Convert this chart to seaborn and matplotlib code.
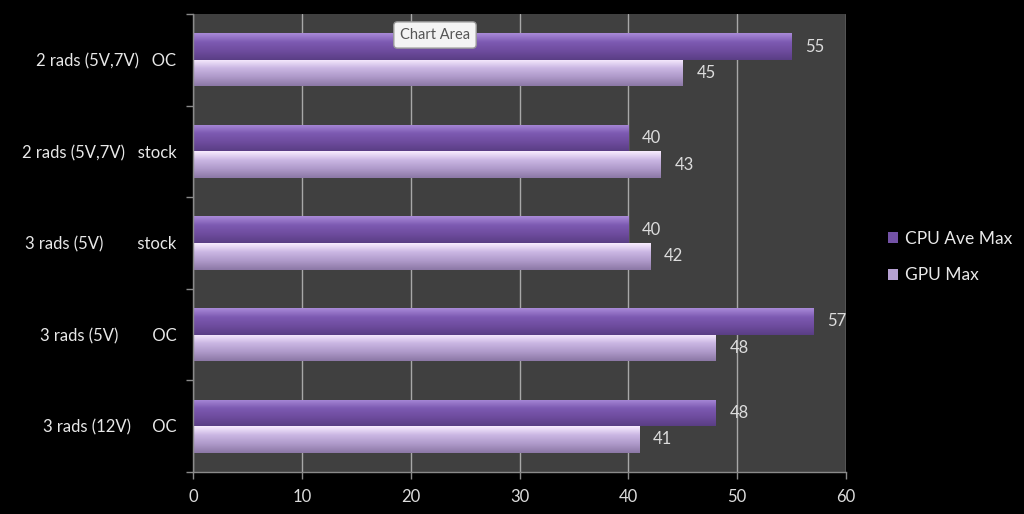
import matplotlib
matplotlib.use("Agg")
import matplotlib.pyplot as plt
import matplotlib.colors as mcolors
import numpy as np
import pandas as pd
import seaborn as sns

categories = ["2 rads (5V,7V)   OC", "2 rads (5V,7V)   stock", "3 rads (5V)        stock",
              "3 rads (5V)        OC", "3 rads (12V)     OC"]
cpu_ave_max = [55, 40, 40, 57, 48]
gpu_max = [45, 43, 42, 48, 41]
series_names = ["CPU Ave Max", "GPU Max"]
x_ticks = [0, 10, 20, 30, 40, 50, 60]

df = pd.DataFrame({
    "config": categories * 2,
    "value": cpu_ave_max + gpu_max,
    "series": [series_names[0]] * len(categories) + [series_names[1]] * len(categories),
})

sns.set_theme(style="dark")
plt.rcParams["font.family"] = ["Lato", "DejaVu Sans"]

base_colors = {"CPU Ave Max": "#7352a6", "GPU Max": "#b6a1d2"}
grad_colors = {
    "CPU Ave Max": ["#a98ad8", "#7d5ab2", "#6e4c9e", "#5a3e85"],
    "GPU Max": ["#f8ecff", "#cab6e3", "#ae99c9", "#8c78a6"],
}

fig = plt.figure(figsize=(10.24, 5.14), dpi=100, facecolor="black")
ax = fig.add_axes([193 / 1024, 1 - 472 / 514, (846 - 193) / 1024, (472 - 14) / 514])
ax.set_facecolor("#404040")

sns.barplot(data=df, y="config", x="value", hue="series", order=categories,
            hue_order=series_names, palette=base_colors, orient="h",
            width=0.58, ax=ax, legend=True, errorbar=None, saturation=1,
            linewidth=0, edgecolor="none")

# gradient fill on bars
for cont, name in zip(ax.containers, series_names):
    cmap = mcolors.LinearSegmentedColormap.from_list(name, grad_colors[name])
    grad = np.linspace(0, 1, 64).reshape(-1, 1)
    for patch in cont:
        x0, y0 = patch.get_x(), patch.get_y()
        w, h = patch.get_width(), patch.get_height()
        im = ax.imshow(grad, cmap=cmap, aspect="auto",
                       extent=(x0, x0 + w, y0 + h, y0), origin="upper",
                       zorder=patch.get_zorder() + 0.1)
        im.set_clip_path(patch)
    ax.bar_label(cont, labels=[str(int(v)) for v in cont.datavalues], padding=10,
                 color="#dcdcdc", fontsize=12)

ax.set_xlim(0, 60)
ax.set_ylim(4.5, -0.5)
ax.set_xticks(x_ticks)
ax.set_xlabel("")
ax.set_ylabel("")

# grid
ax.grid(axis="x", color="#a8a8a8", linewidth=1.0)
ax.grid(axis="y", visible=False)
ax.set_axisbelow(True)

for s in ["top", "right"]:
    ax.spines[s].set_visible(False)
for s in ["left", "bottom"]:
    ax.spines[s].set_visible(True)
    ax.spines[s].set_color("#8a8a8a")
    ax.spines[s].set_linewidth(1.0)

ax.tick_params(axis="x", colors="#8a8a8a", labelcolor="#dcdcdc", labelsize=12,
               length=5, width=1, direction="out", bottom=True, pad=7)
ax.tick_params(axis="y", which="major", length=0, labelcolor="#e8e8e8", labelsize=12, pad=12)
ax.set_yticks(np.arange(-0.5, 5, 1), minor=True)
ax.tick_params(axis="y", which="minor", colors="#8a8a8a", length=5, width=1, left=True)

# legend
handles, labels = ax.get_legend_handles_labels()
ax.legend_.remove()
fig.legend(handles, labels, loc="center left", bbox_to_anchor=(872 / 1024, 1 - 257 / 514),
           frameon=False, fontsize=12.5, labelcolor="#e8e8e8",
           handlelength=0.6, handleheight=0.6, handletextpad=0.4, labelspacing=1.2)

# tooltip
fig.text(435 / 1024, 1 - 35 / 514, "Chart Area", ha="center", va="center", fontsize=10.5,
         color="#555555",
         bbox=dict(boxstyle="round,pad=0.42,rounding_size=0.25", facecolor="#f4f4f4",
                   edgecolor="#9a9a9a"))

fig.savefig("out.png", dpi=100, facecolor="black")
